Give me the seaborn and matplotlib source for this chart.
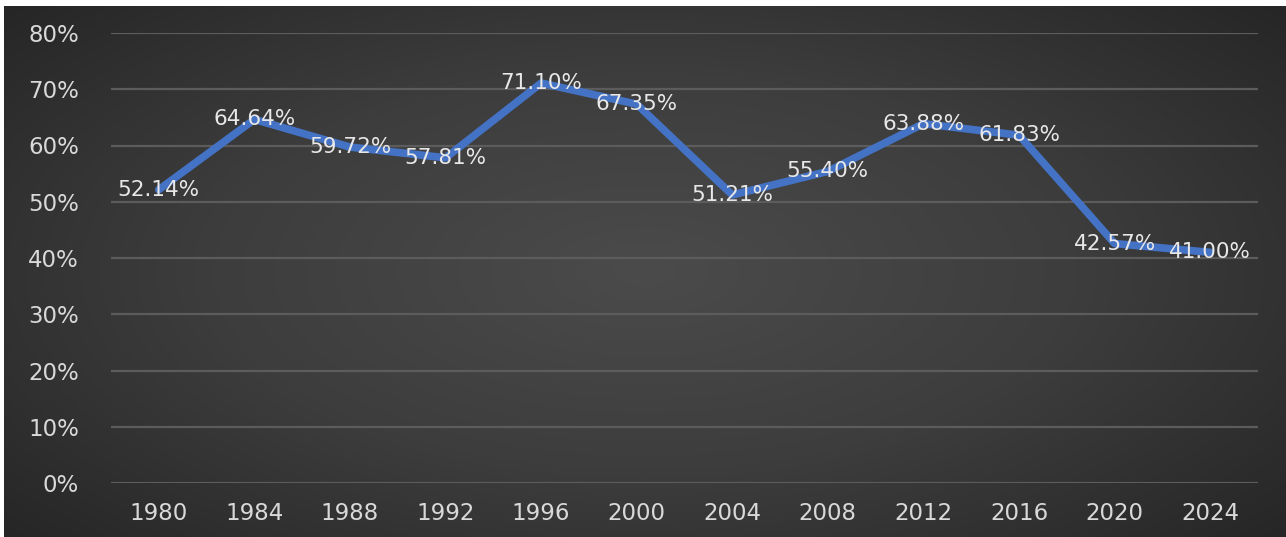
import numpy as np
import pandas as pd
import matplotlib
matplotlib.use("Agg")
import matplotlib.pyplot as plt
import seaborn as sns
from matplotlib.colors import LinearSegmentedColormap

years = ["1980", "1984", "1988", "1992", "1996", "2000",
         "2004", "2008", "2012", "2016", "2020", "2024"]
share = [52.14, 64.64, 59.72, 57.81, 71.10, 67.35,
         51.21, 55.40, 63.88, 61.83, 42.57, 41.00]
y_ticks = [0, 10, 20, 30, 40, 50, 60, 70, 80]

df = pd.DataFrame({"year": years, "share": share})

sns.set_theme(style="dark")
plt.rcParams["font.family"] = ["DejaVu Sans"]

W, H = 1286, 537
fig = plt.figure(figsize=(W / 100, H / 100), dpi=100, facecolor="white")

# dark radial gradient background (like the Excel chart style)
bg = fig.add_axes([4 / W, 0, 1 - 4 / W, 1 - 6 / H])
gx, gy = np.meshgrid(np.linspace(-1, 1, 600), np.linspace(-1, 1, 300))
r = np.sqrt(gx ** 2 + (gy * 0.9) ** 2)
cmap = LinearSegmentedColormap.from_list("bg", ["#4b4b4b", "#3d3d3d", "#262626"])
bg.imshow(r, cmap=cmap, aspect="auto", vmin=0, vmax=1.35, interpolation="bicubic")
bg.set_axis_off()

ax = fig.add_axes([111 / W, 1 - 483 / H, (1258 - 111) / W, (483 - 33) / H])
ax.patch.set_alpha(0)
ax.set_zorder(2)

for t in y_ticks:
    ax.axhline(t, color="#5c5c5c", lw=1.6, zorder=1)

sns.lineplot(data=df, x="year", y="share", ax=ax, color="#4472C4",
             linewidth=5.5, sort=False, zorder=3)

for i, v in enumerate(share):
    ax.text(i, v, f"{v:.2f}%", ha="center", va="center", color="#e8e8e8",
            fontsize=15.5, zorder=4)

ax.set_xlim(-0.5, len(years) - 0.5)
ax.set_ylim(0, 80)
ax.set_yticks(y_ticks)
ax.set_yticklabels([f"{t}%" for t in y_ticks])
ax.tick_params(axis="both", colors="#d9d9d9", labelsize=16.5, length=0)
ax.tick_params(axis="y", pad=23)
ax.tick_params(axis="x", pad=14)
ax.set_xlabel("")
ax.set_ylabel("")
ax.grid(False)
for s in ax.spines.values():
    s.set_visible(False)

plt.savefig("out.png", dpi=100, facecolor="white")
